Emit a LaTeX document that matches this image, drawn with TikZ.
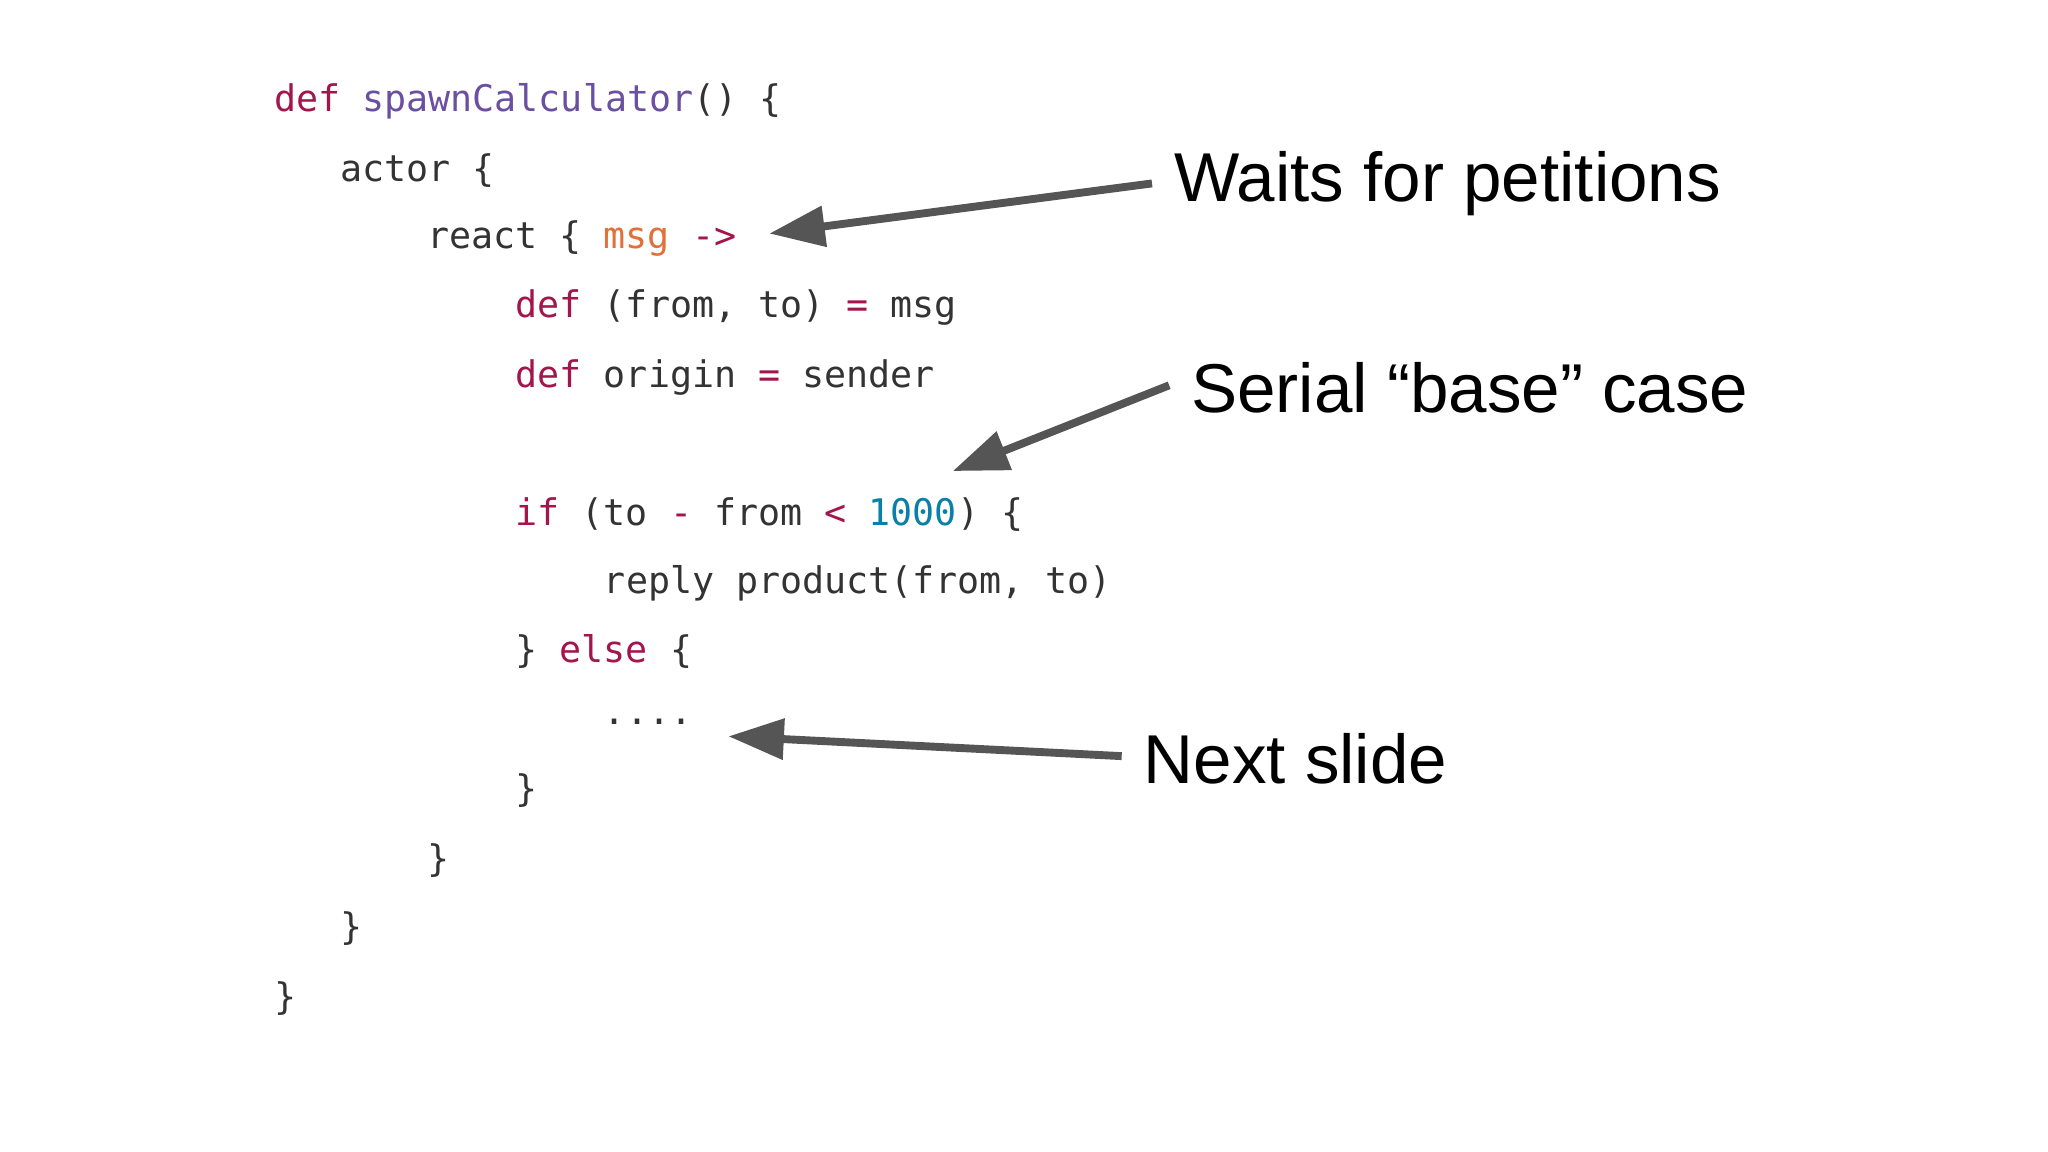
\documentclass[tikz,border=0pt]{standalone}
\usepackage{fontspec}
\setmainfont{Liberation Sans}
\setmonofont{DejaVu Sans Mono}
\usetikzlibrary{arrows.meta}
\definecolor{kw}{HTML}{A3154D}
\definecolor{fn}{HTML}{6B4FA0}
\definecolor{var}{HTML}{E2703A}
\definecolor{num}{HTML}{0A80A8}
\definecolor{txt}{HTML}{333333}
\definecolor{arr}{HTML}{555555}
\begin{document}
\begin{tikzpicture}[x=0.01cm,y=-0.01cm,
  code/.style={anchor=west,inner sep=0pt,text=txt,font=\ttfamily\fontsize{7.9}{9}\selectfont},
  lab/.style={anchor=west,inner sep=0pt,font=\fontsize{14.9}{18}\selectfont},
  pointer/.style={draw=arr,line width=1.7pt,-{Triangle[length=0.42cm,width=0.3cm]}}]
\useasboundingbox (0,0) rectangle (1552,873);
\node[code] (l1) at (207,77) {\textcolor{kw}{def} \textcolor{fn}{spawnCalculator}() \{};
\node[code] (l2) at (257,129) {actor \{};
\node[code] (l3) at (323,181) {react \{ \textcolor{var}{msg} \textcolor{kw}{->}};
\node[code] (l4) at (390,233) {\textcolor{kw}{def} (from, to) \textcolor{kw}{=} msg};
\node[code] (l5) at (390,286) {\textcolor{kw}{def} origin \textcolor{kw}{=} sender};
\node[code] (l6) at (390,390) {\textcolor{kw}{if} (to \textcolor{kw}{-} from \textcolor{kw}{<} \textcolor{num}{1000}) \{};
\node[code] (l7) at (457,442) {reply product(from, to)};
\node[code] (l8) at (390,494) {\} \textcolor{kw}{else} \{};
\node[code] (l9) at (457,547) {....};
\node[code] (l10) at (390,599) {\}};
\node[code] (l11) at (323,652) {\}};
\node[code] (l12) at (257,704) {\}};
\node[code] (l13) at (207,757) {\}};
\node[lab] (w) at (889,139) {Waits for petitions};
\node[lab] (s) at (902,294) {Serial “base” case};
\node[lab] (n) at (866,575) {Next slide};
\coordinate (a1) at (583,177);
\coordinate (a2) at (722,357);
\coordinate (a3) at (552,558);
\draw[pointer] (w.west) ++(-16,0) -- (a1);
\draw[pointer] (s.west) ++(-16,-2) -- (a2);
\draw[pointer] (n.west) ++(-16,-2) -- (a3);
\end{tikzpicture}
\end{document}
